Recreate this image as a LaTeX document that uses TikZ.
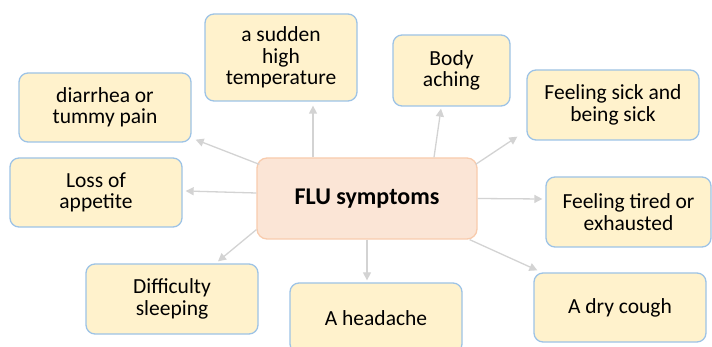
\documentclass[tikz,border=0pt]{standalone}
\usepackage{fontspec}
\setmainfont{Carlito}
\usetikzlibrary{arrows.meta}

\definecolor{boxfill}{HTML}{FFF2CC}
\definecolor{boxline}{HTML}{9DC3E6}
\definecolor{hubfill}{HTML}{FBE5D6}
\definecolor{hubline}{HTML}{F8CBAD}
\definecolor{linkgray}{HTML}{D3D3D3}

\begin{document}
\begin{tikzpicture}[x=1pt,y=-1pt,
  symptom/.style={draw=boxline,fill=boxfill,line width=1.3pt,rounded corners=9pt,
    align=center,inner sep=0pt,font=\fontsize{21.5}{21.5}\selectfont},
  hub/.style={draw=hubline,fill=hubfill,line width=1.3pt,rounded corners=10pt,
    inner sep=0pt,font=\fontsize{24}{24}\selectfont\bfseries},
  link/.style={draw=linkgray,line width=1.3pt,-{Triangle[length=8pt,width=8pt]}}]

\useasboundingbox (0,0) rectangle (712,347);

\node[hub,minimum width=220pt,minimum height=81pt] (flu) at (367,198.5) {FLU symptoms};

\node[symptom,minimum width=152pt,minimum height=87pt] (fever) at (281,57.5) {a sudden\\high\\temperature};
\node[symptom,minimum width=172pt,minimum height=69pt] (tummy) at (105,107.5) {diarrhea or\\tummy pain};
\node[symptom,minimum width=117pt,minimum height=71pt] (aching) at (451.5,70.5) {Body\\aching};
\node[symptom,minimum width=172pt,minimum height=70pt] (sick) at (613,105) {Feeling sick and\\being sick};
\node[symptom,minimum width=172pt,minimum height=69pt] (appetite) at (96,192.5) {Loss of\\appetite};
\node[symptom,minimum width=172pt,minimum height=70pt] (sleep) at (172,299) {Difficulty\\sleeping};
\node[symptom,minimum width=172pt,minimum height=70pt] (headache) at (376,318) {A headache};
\node[symptom,minimum width=165pt,minimum height=70pt] (tired) at (628.5,212) {Feeling tired or\\exhausted};
\node[symptom,minimum width=172pt,minimum height=69pt] (cough) at (620,307.5) {A dry cough};

\draw[link] ([xshift=-54pt]flu.north) -- ([xshift=32pt,yshift=-4pt]fever.south);
\draw[link] ([xshift=3pt,yshift=-7pt]flu.north west) -- ([xshift=4pt,yshift=3pt]tummy.south east);
\draw[link] ([xshift=67pt]flu.north) -- ([xshift=-10.5pt,yshift=-2pt]aching.south);
\draw[link] ([xshift=-2pt,yshift=-7pt]flu.north east) -- ([xshift=-9pt,yshift=4pt]sick.south west);
\draw[link] ([yshift=5.5pt]flu.west) -- ([xshift=3pt,yshift=1.5pt]appetite.east);
\draw[link] ([yshift=10pt]flu.south west) -- ([xshift=46pt,yshift=2pt]sleep.north);
\draw[link] (flu.south) -- ([xshift=-9pt,yshift=2pt]headache.north);
\draw[link] (flu.east) -- ([xshift=-3pt,yshift=13pt]tired.west);
\draw[link] ([xshift=-8pt]flu.south east) -- ([xshift=4pt,yshift=2pt]cough.north west);

\end{tikzpicture}
\end{document}
